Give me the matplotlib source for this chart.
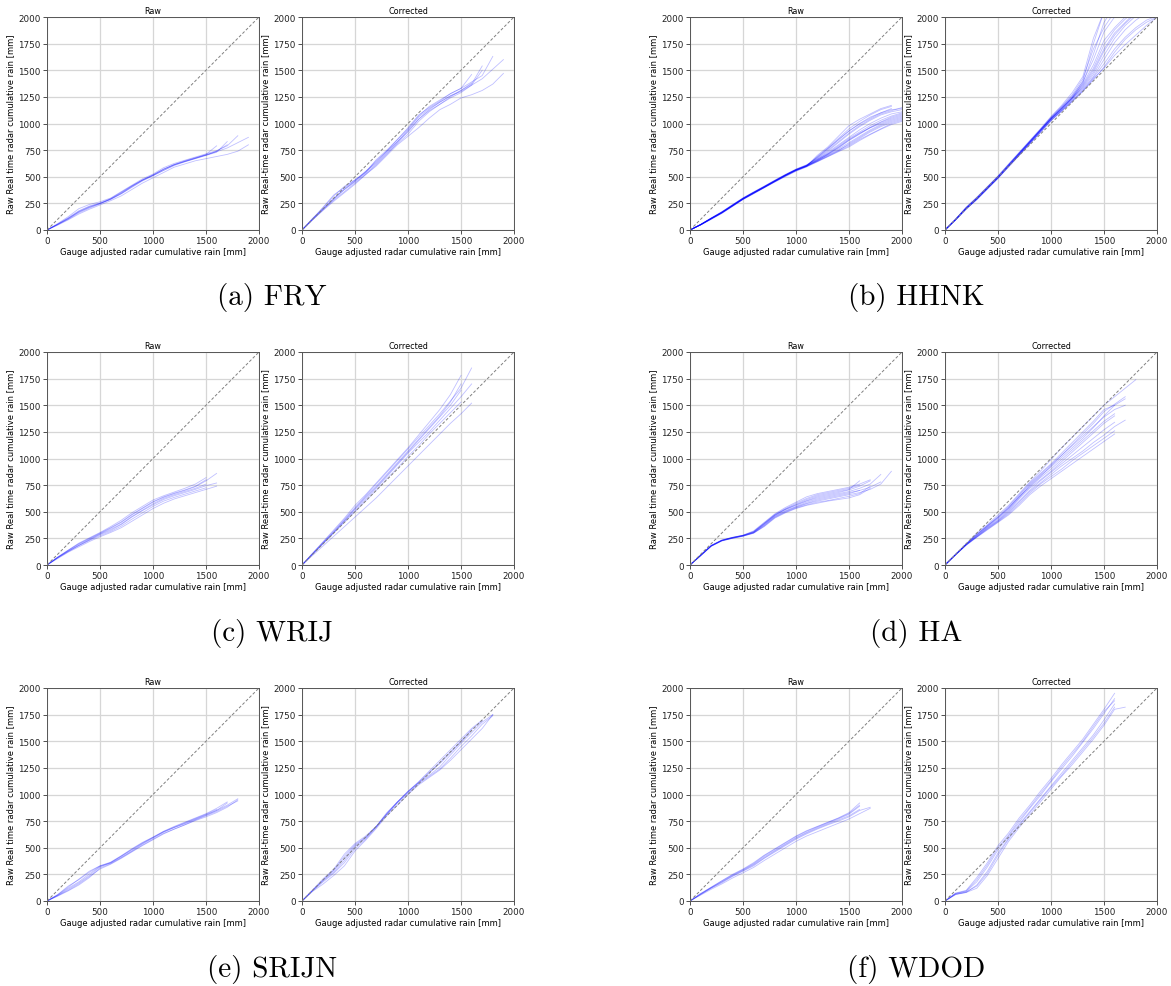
import matplotlib
matplotlib.use("Agg")
import matplotlib.pyplot as plt

# Gauge adjusted cumulative rain at which each curve value is sampled [mm]
X_STEP_GRID = [0, 100, 200, 300, 400, 500, 600, 700, 800, 900, 1000,
               1100, 1200, 1300, 1400, 1500, 1600, 1700, 1800, 1900, 2000]

# ---------------- FRY ----------------
fry_raw = [
    [0, 45, 95, 150, 195, 235, 275, 320, 380, 440, 490, 540, 590, 620, 650, 670, 690, 710, 740, 800],
    [0, 55, 115, 180, 225, 255, 295, 355, 415, 470, 515, 570, 615, 650, 680, 705, 735, 770, 820, 870],
    [0, 60, 125, 200, 240, 265, 300, 360, 420, 480, 525, 585, 625, 655, 685, 715, 745, 790, 885],
    [0, 50, 100, 160, 205, 245, 290, 340, 400, 460, 510, 560, 610, 645, 675, 705, 740, 800],
    [0, 55, 110, 175, 220, 250, 290, 345, 410, 470, 515, 570, 615, 645, 675, 710, 790],
    [0, 50, 105, 170, 215, 250, 285, 340, 405, 465, 510, 560, 605, 640, 670, 700, 730, 830],
    [0, 52, 108, 168, 212, 248, 292, 350, 412, 468, 518, 572, 612, 642, 672, 702, 738],
]
fry_corr = [
    [0, 95, 185, 270, 350, 430, 520, 600, 700, 800, 880, 960, 1050, 1130, 1180, 1240, 1270, 1310, 1370, 1470],
    [0, 110, 200, 290, 380, 460, 540, 640, 740, 830, 940, 1060, 1140, 1200, 1260, 1300, 1360, 1420, 1510, 1600],
    [0, 105, 210, 320, 410, 470, 540, 660, 750, 850, 960, 1080, 1150, 1210, 1280, 1330, 1390, 1450, 1630],
    [0, 100, 190, 290, 390, 460, 550, 630, 730, 830, 920, 1040, 1130, 1200, 1260, 1310, 1370, 1540],
    [0, 100, 200, 300, 380, 450, 530, 620, 720, 810, 900, 1020, 1110, 1180, 1240, 1290, 1360, 1500],
    [0, 105, 215, 330, 400, 470, 550, 650, 740, 850, 950, 1070, 1160, 1220, 1280, 1330, 1460],
    [0, 95, 195, 280, 360, 440, 520, 610, 710, 820, 930, 1040, 1120, 1180, 1250, 1310, 1380],
]

# ---------------- HHNK ----------------
hhnk_raw = [
    [0, 50, 110, 165, 230, 295, 350, 405, 460, 515, 565, 600, 700, 780, 880, 980, 1040, 1090, 1140, 1170],
    [0, 48, 105, 160, 225, 290, 345, 400, 455, 510, 560, 600, 690, 770, 860, 950, 1020, 1080, 1130, 1160],
    [0, 52, 112, 170, 235, 300, 355, 410, 465, 520, 570, 610, 680, 760, 850, 930, 1000, 1060, 1100, 1130, 1140],
    [0, 50, 108, 163, 228, 292, 348, 402, 458, 512, 562, 605, 670, 740, 820, 900, 970, 1030, 1080, 1110, 1130],
    [0, 47, 102, 158, 222, 288, 342, 398, 452, 505, 555, 595, 660, 730, 800, 870, 940, 1000, 1050, 1090, 1110],
    [0, 53, 114, 172, 238, 302, 358, 412, 468, 522, 572, 612, 665, 720, 790, 860, 920, 980, 1030, 1070, 1100],
    [0, 49, 106, 162, 226, 290, 346, 400, 456, 510, 560, 598, 650, 710, 770, 840, 900, 960, 1010, 1050, 1080],
    [0, 51, 109, 166, 231, 296, 352, 406, 462, 516, 566, 604, 655, 705, 760, 820, 880, 940, 990, 1030, 1060],
    [0, 50, 107, 164, 229, 294, 349, 403, 459, 513, 563, 600, 645, 700, 750, 800, 860, 920, 970, 1010, 1040],
    [0, 46, 100, 155, 220, 285, 340, 395, 450, 502, 552, 592, 640, 690, 740, 790, 850, 900, 950, 1000, 1030],
    [0, 52, 111, 168, 233, 298, 354, 408, 464, 518, 568, 606, 660, 715, 780, 850, 910, 960, 1000, 1040, 1070],
    [0, 48, 104, 161, 227, 291, 347, 401, 457, 511, 561, 601, 648, 695, 745, 810, 870, 930, 980, 1020, 1050],
    [0, 51, 110, 167, 232, 297, 353, 407, 463, 517, 567, 608, 675, 750, 830, 910, 980, 1040, 1090, 1120, 1150],
    [0, 49, 105, 160, 224, 289, 344, 399, 454, 508, 558, 596, 642, 688, 735, 780, 840, 895, 945, 990, 1020],
    [0, 50, 109, 165, 230, 295, 350, 404, 460, 514, 564, 603, 652, 712, 775, 845, 905, 965, 1015, 1060, 1090],
    [0, 50, 108, 164, 229, 293, 349, 403, 459, 513, 563, 602, 685, 765, 845, 930, 995, 1050, 1100, 1140],
]
hhnk_corr = [
    [0, 100, 210, 300, 400, 500, 610, 720, 830, 940, 1050, 1150, 1250, 1400, 1750, 2050],
    [0, 98, 205, 295, 395, 495, 605, 715, 825, 935, 1045, 1140, 1240, 1380, 1650, 1950, 2100],
    [0, 102, 212, 305, 405, 505, 615, 725, 835, 945, 1060, 1160, 1270, 1420, 1700, 1900, 2050],
    [0, 96, 200, 290, 390, 490, 600, 710, 820, 930, 1040, 1130, 1230, 1350, 1500, 1700, 1850, 1950, 2050],
    [0, 100, 208, 300, 400, 502, 612, 722, 830, 938, 1048, 1145, 1245, 1370, 1550, 1780, 1900, 2000, 2080],
    [0, 95, 198, 288, 388, 488, 598, 705, 815, 925, 1035, 1125, 1220, 1320, 1440, 1600, 1760, 1880, 1970, 2040],
    [0, 97, 202, 292, 392, 492, 602, 712, 822, 932, 1042, 1135, 1235, 1330, 1460, 1640, 1800, 1920, 2010],
    [0, 103, 215, 308, 408, 508, 620, 730, 840, 950, 1065, 1170, 1290, 1440, 1800, 2050],
    [0, 94, 196, 285, 385, 485, 592, 700, 808, 915, 1025, 1115, 1205, 1300, 1420, 1520, 1640, 1740, 1830, 1920, 2000],
    [0, 96, 199, 289, 389, 489, 596, 704, 812, 920, 1030, 1120, 1215, 1310, 1430, 1560, 1700, 1810, 1900, 1970, 2010],
    [0, 99, 204, 297, 397, 497, 607, 717, 827, 937, 1047, 1142, 1242, 1360, 1520, 1740, 1880, 1980, 2060],
    [0, 101, 209, 302, 402, 503, 613, 723, 833, 943, 1055, 1155, 1260, 1390, 1600, 1860, 2000],
    [0, 95, 197, 287, 387, 487, 595, 702, 810, 918, 1028, 1118, 1210, 1305, 1410, 1530, 1670, 1790, 1880, 1950, 2000],
    [0, 98, 203, 294, 394, 494, 604, 714, 824, 934, 1044, 1138, 1238, 1340, 1480, 1680, 1830, 1940, 2030],
]

# ---------------- WRIJ ----------------
wrij_raw = [
    [0, 75, 140, 205, 255, 305, 360, 420, 490, 550, 610, 650, 685, 720, 760, 820],
    [0, 70, 135, 195, 245, 295, 345, 400, 470, 530, 590, 635, 670, 700, 735, 790, 860],
    [0, 70, 130, 185, 235, 285, 325, 380, 450, 510, 565, 615, 650, 680, 710, 745, 770],
    [0, 65, 125, 180, 230, 275, 315, 365, 430, 490, 550, 600, 635, 665, 695, 725],
    [0, 72, 138, 200, 250, 300, 350, 405, 475, 535, 595, 640, 675, 705, 740, 800],
    [0, 68, 128, 185, 238, 290, 335, 385, 455, 515, 575, 625, 660, 690, 720, 760],
    [0, 60, 120, 170, 220, 265, 305, 350, 410, 470, 530, 580, 620, 650, 680, 710, 740],
]
wrij_corr = [
    [0, 110, 220, 330, 440, 560, 660, 770, 880, 990, 1100, 1220, 1340, 1460, 1600, 1780],
    [0, 105, 210, 310, 420, 530, 640, 740, 850, 960, 1070, 1180, 1290, 1400, 1530, 1700],
    [0, 100, 200, 300, 400, 500, 600, 700, 810, 910, 1020, 1120, 1230, 1330, 1430, 1530],
    [0, 90, 180, 270, 360, 450, 540, 630, 730, 830, 930, 1030, 1130, 1230, 1330, 1420, 1520],
    [0, 110, 215, 320, 430, 540, 650, 760, 870, 980, 1090, 1200, 1310, 1420, 1540, 1660, 1850],
    [0, 105, 205, 305, 415, 525, 630, 730, 840, 950, 1060, 1170, 1280, 1390, 1500, 1640],
    [0, 100, 205, 310, 410, 510, 615, 720, 830, 940, 1050, 1150, 1250, 1360, 1470, 1580, 1700],
]

# ---------------- HA ----------------
ha_raw = [
    [0, 90, 180, 230, 255, 275, 305, 380, 460, 510, 550, 590, 620, 640, 660, 680, 700, 730, 780],
    [0, 95, 185, 235, 260, 280, 320, 400, 480, 540, 590, 640, 670, 690, 710, 730, 760, 800],
    [0, 85, 175, 225, 250, 270, 300, 360, 440, 490, 530, 560, 580, 600, 615, 630, 660, 720],
    [0, 92, 182, 232, 258, 278, 312, 390, 470, 525, 570, 615, 650, 670, 690, 710, 790],
    [0, 88, 178, 228, 252, 272, 302, 370, 450, 500, 540, 575, 600, 620, 640, 660, 680, 710, 760, 880],
    [0, 90, 180, 230, 256, 276, 308, 385, 465, 520, 560, 600, 630, 650, 670, 690, 720, 760, 850],
    [0, 87, 177, 227, 251, 271, 298, 365, 445, 495, 535, 565, 590, 605, 625, 645, 670, 740],
    [0, 93, 183, 233, 259, 279, 315, 395, 475, 530, 580, 625, 660, 680, 700, 720, 750],
    [0, 89, 179, 229, 254, 274, 304, 375, 455, 505, 545, 580, 610, 630, 650, 670, 700],
    [0, 91, 181, 231, 257, 277, 310, 388, 468, 522, 565, 605, 640, 660, 680, 705, 740, 790],
]
ha_corr = [
    [0, 100, 200, 300, 380, 470, 560, 670, 780, 880, 990, 1100, 1200, 1300, 1400, 1500, 1580, 1660, 1740],
    [0, 100, 195, 285, 370, 450, 540, 640, 740, 830, 930, 1030, 1130, 1230, 1330, 1440, 1510, 1580],
    [0, 95, 190, 270, 350, 420, 510, 620, 720, 800, 880, 970, 1060, 1150, 1240, 1330, 1400],
    [0, 95, 190, 265, 340, 410, 490, 590, 690, 770, 850, 930, 1000, 1070, 1150, 1220, 1300, 1360],
    [0, 95, 185, 260, 330, 400, 470, 560, 660, 740, 810, 880, 950, 1020, 1090, 1160, 1230],
    [0, 100, 195, 280, 360, 440, 530, 640, 730, 820, 900, 990, 1080, 1170, 1260, 1350, 1420],
    [0, 98, 192, 275, 355, 430, 520, 630, 750, 840, 920, 1010, 1100, 1190, 1290, 1400, 1500],
    [0, 97, 190, 268, 345, 415, 500, 600, 700, 790, 870, 950, 1030, 1110, 1190, 1270, 1340],
    [0, 100, 198, 290, 370, 455, 550, 660, 770, 860, 950, 1050, 1150, 1250, 1350, 1460, 1500, 1560],
    [0, 96, 188, 262, 335, 405, 480, 575, 675, 760, 830, 900, 980, 1050, 1120, 1190, 1260],
    [0, 99, 196, 285, 365, 445, 535, 650, 760, 850, 940, 1030, 1120, 1210, 1300, 1390, 1460, 1500],
]

# ---------------- SRIJN ----------------
srijn_raw = [
    [0, 50, 110, 170, 240, 320, 360, 420, 480, 540, 595, 650, 690, 730, 770, 810, 850, 900, 960],
    [0, 45, 95, 150, 220, 310, 350, 405, 465, 525, 580, 635, 675, 715, 760, 800, 840, 890, 940],
    [0, 60, 140, 200, 270, 330, 365, 425, 490, 550, 600, 655, 700, 740, 780, 820, 870, 930],
    [0, 55, 120, 180, 255, 325, 355, 410, 470, 535, 590, 645, 690, 725, 765, 805, 850, 920],
    [0, 50, 100, 160, 230, 300, 345, 400, 460, 520, 575, 630, 675, 715, 755, 790, 830, 880, 950],
    [0, 58, 130, 205, 280, 330, 360, 420, 485, 545, 598, 652, 695, 735, 775, 815, 860],
]
srijn_corr = [
    [0, 100, 190, 270, 380, 510, 590, 700, 820, 930, 1020, 1110, 1180, 1260, 1370, 1480, 1580, 1680, 1750],
    [0, 95, 180, 260, 360, 490, 580, 690, 810, 920, 1010, 1100, 1170, 1240, 1340, 1450, 1550, 1660, 1740],
    [0, 105, 210, 300, 440, 540, 610, 700, 830, 930, 1030, 1120, 1220, 1320, 1420, 1520, 1620, 1700],
    [0, 90, 160, 240, 330, 470, 570, 680, 800, 900, 1000, 1090, 1160, 1230, 1320, 1420, 1520, 1620, 1750],
    [0, 100, 200, 290, 420, 530, 600, 700, 820, 930, 1030, 1110, 1200, 1300, 1400, 1500, 1610, 1690],
    [0, 98, 195, 285, 400, 520, 595, 695, 815, 925, 1025, 1115, 1210, 1290, 1390, 1495, 1600],
]

# ---------------- WDOD ----------------
wdod_raw = [
    [0, 70, 130, 190, 250, 300, 360, 430, 490, 550, 610, 660, 700, 740, 780, 830, 920],
    [0, 65, 125, 180, 240, 290, 345, 415, 475, 535, 595, 645, 690, 730, 770, 815, 890],
    [0, 60, 120, 170, 230, 280, 330, 400, 460, 520, 580, 630, 675, 715, 750, 790, 850, 880],
    [0, 55, 110, 160, 215, 265, 315, 380, 440, 500, 560, 610, 650, 690, 730, 770, 820, 870],
    [0, 68, 128, 188, 245, 295, 352, 425, 485, 545, 605, 655, 697, 737, 777, 822, 900],
    [0, 62, 122, 178, 235, 285, 338, 405, 468, 528, 588, 638, 682, 722, 760, 800, 860],
]
wdod_corr = [
    [0, 75, 100, 220, 360, 520, 640, 780, 900, 1030, 1150, 1280, 1400, 1520, 1660, 1800, 1950],
    [0, 70, 90, 180, 320, 480, 610, 740, 870, 990, 1120, 1240, 1360, 1490, 1620, 1760, 1900],
    [0, 65, 80, 150, 280, 450, 590, 720, 840, 960, 1080, 1200, 1320, 1440, 1560, 1700, 1850],
    [0, 60, 80, 120, 240, 400, 560, 690, 810, 930, 1050, 1170, 1280, 1400, 1520, 1650, 1800, 1820],
    [0, 70, 95, 200, 340, 500, 620, 760, 880, 1010, 1130, 1260, 1380, 1500, 1640, 1780, 1880],
    [0, 62, 85, 140, 260, 430, 580, 710, 830, 950, 1070, 1180, 1300, 1420, 1540, 1670, 1820],
]

catchments = ["FRY", "HHNK", "WRIJ", "HA", "SRIJN", "WDOD"]
letters = ["a", "b", "c", "d", "e", "f"]
raw_sets = [fry_raw, hhnk_raw, wrij_raw, ha_raw, srijn_raw, wdod_raw]
corr_sets = [fry_corr, hhnk_corr, wrij_corr, ha_corr, srijn_corr, wdod_corr]

W, H = 1171, 987
fig = plt.figure(figsize=(W / 100, H / 100), dpi=100)

# pixel positions of the panel grid
col_left = [(47, 302), (690, 945)]
row_bottom = [231, 566, 902]
ax_w, ax_h = 212, 213
caption_x = [272, 916]
caption_y = [298, 634, 970]

TICK_COLOR = "#333333"


def style_axes(ax, title, ylabel):
    ax.set_xlim(0, 2000)
    ax.set_ylim(0, 2000)
    ax.set_xticks([0, 500, 1000, 1500, 2000])
    ax.set_yticks([0, 250, 500, 750, 1000, 1250, 1500, 1750, 2000])
    ax.grid(True, color="#d6d6d6", linewidth=0.9)
    ax.set_axisbelow(True)
    ax.tick_params(labelsize=6.3, length=3, width=0.6, color=TICK_COLOR,
                   labelcolor="#222222", pad=1.5)
    for s in ax.spines.values():
        s.set_color("#555555")
        s.set_linewidth(0.7)
    ax.set_title(title, fontsize=5.8, pad=3)
    ax.set_xlabel("Gauge adjusted radar cumulative rain [mm]", fontsize=6, labelpad=1)
    ax.set_ylabel(ylabel, fontsize=6, labelpad=2)
    ax.plot([0, 2000], [0, 2000], linestyle=(0, (3, 2)), color="#808080",
            linewidth=0.7, zorder=3)


for i, name in enumerate(catchments):
    r, c = divmod(i, 2)
    bottom_px = row_bottom[r]
    for j, (lines, title, ylabel) in enumerate([
        (raw_sets[i], "Raw", "Raw Real time radar cumulative rain [mm]"),
        (corr_sets[i], "Corrected", "Raw Real-time radar cumulative rain [mm]"),
    ]):
        left_px = col_left[c][j]
        ax = fig.add_axes([left_px / W, 1 - bottom_px / H, ax_w / W, ax_h / H])
        style_axes(ax, title, ylabel)
        for ys in lines:
            ax.plot(X_STEP_GRID[:len(ys)], ys, color="blue", alpha=0.25,
                    linewidth=0.6, zorder=2)
    fig.text(caption_x[c] / W, 1 - caption_y[r] / H, f"({letters[i]}) {name}",
             fontsize=21, family="cmr10", ha="center", va="center")

fig.savefig("out.png", dpi=100)
